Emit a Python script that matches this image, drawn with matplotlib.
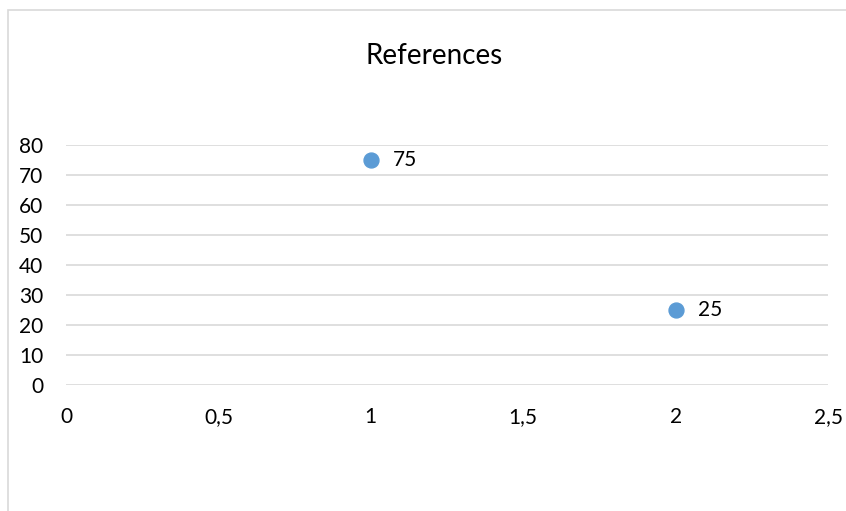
import matplotlib.pyplot as plt
from matplotlib.patches import Rectangle
from matplotlib.ticker import FuncFormatter

# Données du graphique
x_vals = [1, 2]
y_vals = [75, 25]
x_ticks = [0, 0.5, 1, 1.5, 2, 2.5]
y_ticks = [0, 10, 20, 30, 40, 50, 60, 70, 80]
titre = "References"

plt.rcParams['font.family'] = ['Lato', 'DejaVu Sans']

fig = plt.figure(figsize=(8.46, 5.11), dpi=100)
W, H = 846, 511

# Cadre gris clair autour de la zone du graphique
fig.patches.append(Rectangle((8 / W, -0.1), 1.2, 1 - 10 / H + 0.1,
                             transform=fig.transFigure, fill=False,
                             edgecolor='#D9D9D9', linewidth=1.2))

ax = fig.add_axes([66 / W, 1 - 385 / H, (828 - 66) / W, (385 - 145) / H])
ax.set_xlim(0, 2.5)
ax.set_ylim(0, 80)
ax.set_xticks(x_ticks)
ax.set_yticks(y_ticks)

# Virgule décimale
ax.xaxis.set_major_formatter(FuncFormatter(lambda v, p: ('%g' % v).replace('.', ',')))

ax.grid(axis='y', color='#D9D9D9', linewidth=1.2)
ax.set_axisbelow(True)
for s in ax.spines.values():
    s.set_visible(False)
ax.tick_params(length=0, labelsize=15, colors='#000000')
ax.tick_params(axis='y', pad=16.5)
ax.tick_params(axis='x', pad=16)

ax.scatter(x_vals, y_vals, s=115, color='#5B9BD5', zorder=3, clip_on=False)
for x, y in zip(x_vals, y_vals):
    ax.annotate(str(y), (x, y), xytext=(16, 0), textcoords='offset points',
                va='center', ha='left', fontsize=15)

fig.text(434 / W, 1 - 56 / H, titre, ha='center', va='center', fontsize=20)

fig.savefig('out.png', dpi=100)
